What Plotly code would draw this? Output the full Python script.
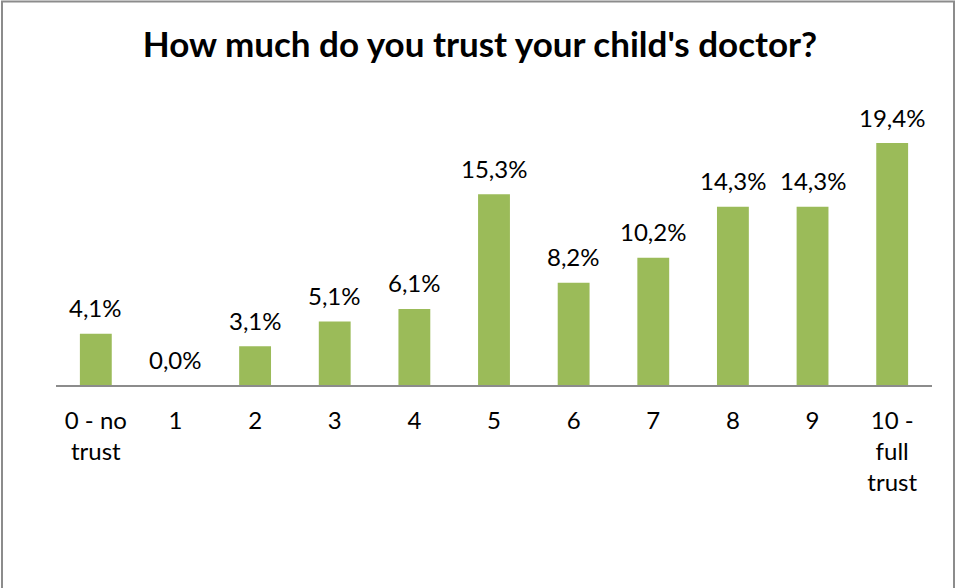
import plotly.graph_objects as go

categories = ["0 - no<br>trust", "1", "2", "3", "4", "5", "6", "7", "8", "9", "10 -<br>full<br>trust"]
values = [4.1, 0.0, 3.1, 5.1, 6.1, 15.3, 8.2, 10.2, 14.3, 14.3, 19.4]
title_text = "How much do you trust your child's doctor?"

W, H = 961, 588
FONT = "Lato, 'Open Sans', sans-serif"

fig = go.Figure()
fig.add_trace(go.Bar(
    x=categories, y=values,
    marker=dict(color="#9BBB59", line=dict(width=0)),
    width=0.4,
))

for c, v in zip(categories, values):
    fig.add_annotation(x=c, y=v, xref="x", yref="y",
                       text=f"{v:.1f}%".replace(".", ","),
                       showarrow=False, yanchor="middle", yshift=26,
                       font=dict(family=FONT, size=24, color="#000000"))

fig.update_layout(
    width=W, height=H,
    margin=dict(l=0, r=0, t=0, b=0),
    paper_bgcolor="white", plot_bgcolor="white",
    showlegend=False,
    title=dict(text="<b>" + title_text + "</b>", x=(140 + 820) / 2 / W, xanchor="center",
               y=1 - 45 / H, yanchor="middle",
               font=dict(family=FONT, size=35, color="#000000")),
    xaxis=dict(domain=[56 / W, 932 / W], showline=True, linecolor="#8c8c8c", linewidth=2,
               ticks="", tickangle=0, ticklabelstandoff=13,
               tickfont=dict(family=FONT, size=24, color="#000000"), fixedrange=True),
    yaxis=dict(domain=[(H - 385) / H, (H - 100) / H], range=[0, 22.85], visible=False,
               showgrid=False, zeroline=False, fixedrange=True),
    shapes=[dict(type="rect", xref="paper", yref="paper", x0=2 / W, x1=954 / W,
                 y0=-0.1, y1=1 - 1.5 / H, line=dict(color="#8c8c8c", width=2))],
)

fig.write_html("out.html")
